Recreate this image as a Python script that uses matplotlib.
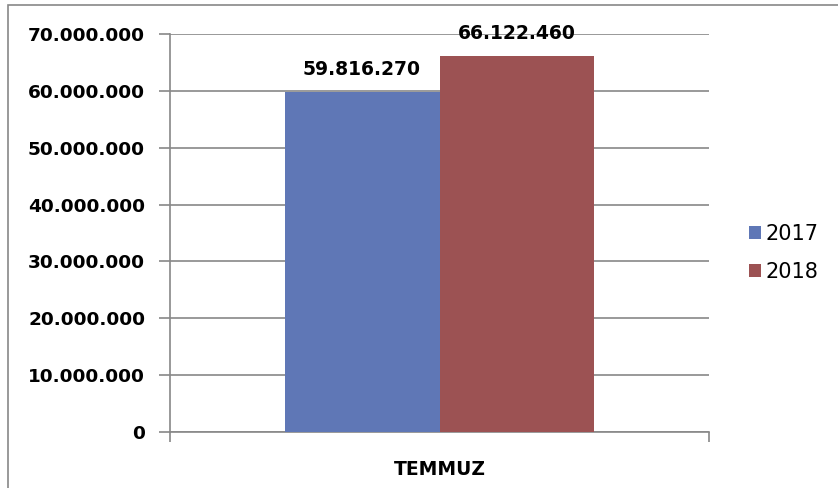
import matplotlib
matplotlib.use('Agg')
from matplotlib import pyplot as plt
from matplotlib.patches import Rectangle
from matplotlib.ticker import FuncFormatter

# veriler
kategori = ['TEMMUZ']
yillar = ['2017', '2018']
degerler = [59816270, 66122460]
renkler = ['#5F77B6', '#9C5253']

plt.rcParams['font.family'] = ['DejaVu Sans']


def nokta_format(v, pos=None):
    return '{:,.0f}'.format(v).replace(',', '.')


fig = plt.figure(figsize=(8.38, 4.88), dpi=100)
# dis cerceve
fig.patches.append(Rectangle((8 / 838, -0.01), 1.0, 1 - 5 / 488 + 0.01,
                             transform=fig.transFigure, fill=False,
                             edgecolor='#888888', linewidth=1.2))

ax = fig.add_axes([170 / 838, 1 - 432 / 488, (709 - 170) / 838, (432 - 34) / 488])

genislik = 0.2875
for i, (yil, deger) in enumerate(zip(yillar, degerler)):
    x = (i - 0.5) * genislik
    ax.bar(x, deger, width=genislik, color=renkler[i], label=yil, zorder=3)
    ax.text(x, deger + 2300000, nokta_format(deger), ha='center', va='bottom',
            fontsize=13.5, fontweight='bold', zorder=4)

ax.set_xlim(-0.5, 0.5)
ax.set_ylim(0, 70000000)
ax.set_yticks(range(0, 70000001, 10000000))
ax.yaxis.set_major_formatter(FuncFormatter(nokta_format))
ax.set_xticks([-0.5, 0.5])
ax.set_xticklabels(['', ''])
ax.tick_params(axis='x', length=7, color='#888888', width=1.2)
ax.tick_params(axis='y', length=8, color='#888888', width=1.2, pad=10,
               labelsize=13.3)
for lab in ax.get_yticklabels():
    lab.set_fontweight('bold')
ax.text(0.5, -0.07, kategori[0], transform=ax.transAxes, ha='center', va='top',
        fontsize=13.5, fontweight='bold')

ax.grid(axis='y', color='#888888', linewidth=1.2, zorder=0)
for s in ['top', 'right']:
    ax.spines[s].set_visible(False)
for s in ['left', 'bottom']:
    ax.spines[s].set_color('#888888')
    ax.spines[s].set_linewidth(1.2)

ax.legend(loc='center left', bbox_to_anchor=(1.04, 0.45), frameon=False,
          fontsize=15, handlelength=0.55, handleheight=0.55, handletextpad=0.25,
          labelspacing=0.85)

fig.savefig('out.png', dpi=100)
